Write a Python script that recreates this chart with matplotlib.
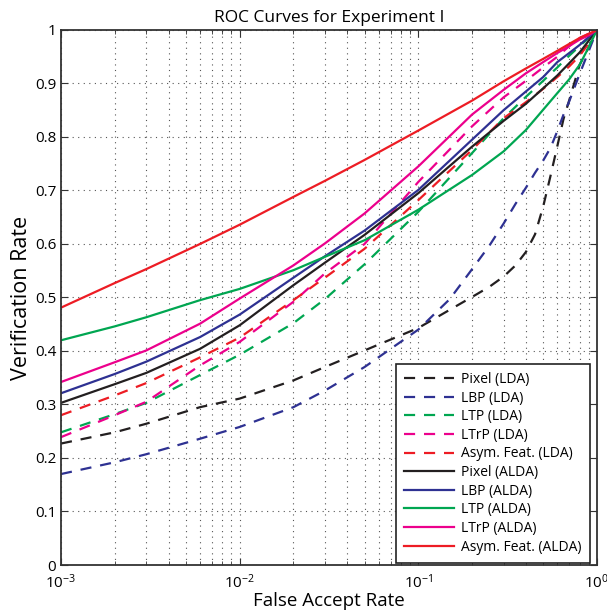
import matplotlib
matplotlib.use("Agg")
import matplotlib.pyplot as plt
from matplotlib.ticker import LogLocator, FixedLocator, NullFormatter

plt.rcParams['font.family'] = ['Open Sans', 'DejaVu Sans']
plt.rcParams['mathtext.fontset'] = 'custom'
plt.rcParams['mathtext.rm'] = 'Open Sans'
plt.rcParams['mathtext.it'] = 'Open Sans'

# false accept rate sample points
far = [0.001, 0.002, 0.003, 0.006, 0.01, 0.02, 0.03, 0.05, 0.1,
       0.2, 0.3, 0.4, 0.5, 0.6, 0.7, 0.8, 0.9, 1.0]
# denser sampling for the two steep LDA curves
far_steep = [0.001, 0.002, 0.003, 0.006, 0.01, 0.02, 0.03, 0.05, 0.1, 0.15,
             0.2, 0.25, 0.3, 0.35, 0.4, 0.45, 0.5, 0.55, 0.6, 0.65, 0.7,
             0.8, 0.9, 1.0]

# LDA (dashed)
pixel_lda = [0.227, 0.248, 0.264, 0.295, 0.311, 0.345, 0.370, 0.401, 0.443, 0.477,
             0.501, 0.520, 0.539, 0.560, 0.585, 0.618, 0.670, 0.728, 0.783, 0.834,
             0.869, 0.935, 0.968, 1.0]
lbp_lda = [0.170, 0.192, 0.207, 0.236, 0.258, 0.295, 0.326, 0.370, 0.440, 0.497,
           0.553, 0.597, 0.638, 0.675, 0.705, 0.733, 0.756, 0.780, 0.811, 0.842,
           0.867, 0.918, 0.961, 1.0]
ltp_lda = [0.248, 0.282, 0.303, 0.355, 0.393, 0.452, 0.497, 0.562, 0.660,
           0.770, 0.835, 0.875, 0.905, 0.930, 0.952, 0.970, 0.985, 1.0]
ltrp_lda = [0.239, 0.280, 0.305, 0.373, 0.417, 0.492, 0.545, 0.600, 0.716,
            0.820, 0.874, 0.905, 0.930, 0.950, 0.970, 0.985, 0.993, 1.0]
asym_lda = [0.280, 0.317, 0.340, 0.388, 0.425, 0.495, 0.537, 0.591, 0.682,
            0.776, 0.835, 0.865, 0.890, 0.912, 0.932, 0.952, 0.975, 1.0]

# ALDA (solid)
pixel_alda = [0.303, 0.338, 0.359, 0.404, 0.448, 0.523, 0.565, 0.617, 0.695,
              0.782, 0.830, 0.862, 0.891, 0.915, 0.938, 0.958, 0.980, 1.0]
lbp_alda = [0.321, 0.357, 0.380, 0.426, 0.468, 0.537, 0.577, 0.625, 0.701,
            0.795, 0.850, 0.885, 0.912, 0.940, 0.957, 0.972, 0.987, 1.0]
ltp_alda = [0.420, 0.446, 0.463, 0.495, 0.516, 0.551, 0.576, 0.607, 0.664,
            0.729, 0.773, 0.813, 0.851, 0.882, 0.908, 0.935, 0.968, 1.0]
ltrp_alda = [0.342, 0.379, 0.401, 0.451, 0.498, 0.560, 0.601, 0.657, 0.745,
             0.842, 0.888, 0.919, 0.940, 0.957, 0.970, 0.982, 0.990, 1.0]
asym_alda = [0.481, 0.527, 0.553, 0.600, 0.636, 0.688, 0.718, 0.757, 0.812,
             0.868, 0.904, 0.928, 0.946, 0.961, 0.974, 0.985, 0.993, 1.0]

names = ['Pixel', 'LBP', 'LTP', 'LTrP', 'Asym. Feat.']
colors = ['#231f20', '#2e3192', '#00a651', '#ec008c', '#ed1c24']
lda_x = [far_steep, far_steep, far, far, far]
lda = [pixel_lda, lbp_lda, ltp_lda, ltrp_lda, asym_lda]
alda = [pixel_alda, lbp_alda, ltp_alda, ltrp_alda, asym_alda]

fig = plt.figure(figsize=(6.07, 6.15), dpi=100)
ax = fig.add_axes([0.1005, 0.0813, 0.883, 0.870])

for n, c, xs, vals in zip(names, colors, lda_x, lda):
    ax.plot(xs, vals, color=c, lw=1.6, linestyle=(0, (5, 4)), label=f'{n} (LDA)')
for n, c, vals in zip(names, colors, alda):
    ax.plot(far, vals, color=c, lw=1.6, label=f'{n} (ALDA)')

ax.set_xscale('log')
ax.set_xlim(1e-3, 1)
ax.set_ylim(0, 1)
ax.set_xticks([1e-3, 1e-2, 1e-1, 1])
ax.set_xticklabels(['$10^{-3}$', '$10^{-2}$', '$10^{-1}$', '$10^{0}$'])
ax.xaxis.set_minor_locator(LogLocator(base=10, subs=range(2, 10)))
ax.xaxis.set_minor_formatter(NullFormatter())
yt = [0, 0.1, 0.2, 0.3, 0.4, 0.5, 0.6, 0.7, 0.8, 0.9, 1]
ax.yaxis.set_major_locator(FixedLocator(yt))
ax.set_yticklabels(['0', '0.1', '0.2', '0.3', '0.4', '0.5', '0.6', '0.7', '0.8', '0.9', '1'])

ax.tick_params(which='both', direction='in', top=True, right=True,
               labelsize=11, color='#333333')
ax.tick_params(which='major', length=5)
ax.tick_params(which='minor', length=3)
ax.tick_params(axis='x', pad=6)

ax.grid(True, which='major', linestyle=(0, (1, 4)), color='#555555', lw=0.8)
ax.grid(True, which='minor', axis='x', linestyle=(0, (1, 4)), color='#555555', lw=0.8)
for s in ax.spines.values():
    s.set_linewidth(1.3)
    s.set_color('#333333')

ax.set_title('ROC Curves for Experiment I', fontsize=12.5, pad=6)
ax.set_xlabel('False Accept Rate', fontsize=13.5, labelpad=0)
ax.set_ylabel('Verification Rate', fontsize=15.5, labelpad=2)

leg = ax.legend(loc='lower right', bbox_to_anchor=(0.987, 0.004), borderaxespad=0,
                fontsize=10, handlelength=3.6, fancybox=False, framealpha=1,
                edgecolor='#222222', labelspacing=0.26, handletextpad=0.5,
                borderpad=0.6)
leg.get_frame().set_linewidth(1.2)

fig.savefig('out.png', dpi=100)
